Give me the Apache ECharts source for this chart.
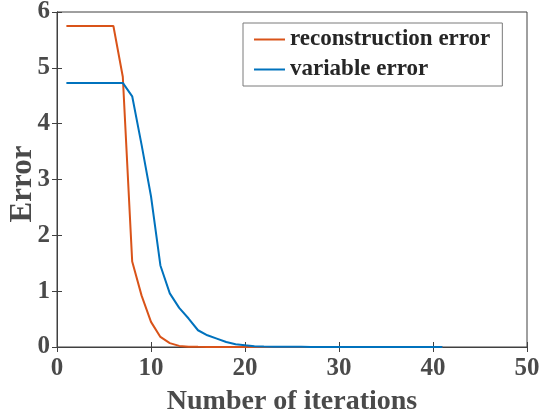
<!DOCTYPE html>
<html>
<head>
<meta charset="utf-8">
<script src="https://cdn.jsdelivr.net/npm/echarts@6/dist/echarts.min.js"></script>
<style>html,body{margin:0;padding:0;background:#fff}#c{width:539px;height:416px}</style>
</head>
<body>
<div id="c"></div>
<script>
var iterations = [1,2,3,4,5,6,7,8,9,10,11,12,13,14,15,16,17,18,19,20,21,22,23,24,25,26,27,28,29,30,31,32,33,34,35,36,37,38,39,40,41];
var reconstructionError = [5.75,5.75,5.75,5.75,5.75,5.75,4.84,1.53,0.92,0.45,0.18,0.07,0.02,0.006,0.003,0.002,0.001,0.001,0.001,0.001,0.001,0.001,0.001,0.001,0.001,0.001,0.001,0.001,0.001,0.001,0.001,0.001,0.001,0.001,0.001,0.001,0.001,0.001,0.001,0.001,0.001];
var variableError = [4.73,4.73,4.73,4.73,4.73,4.73,4.73,4.49,3.62,2.70,1.46,0.96,0.70,0.51,0.30,0.21,0.15,0.09,0.05,0.03,0.015,0.008,0.005,0.004,0.003,0.003,0.002,0.002,0.002,0.002,0.001,0.001,0.001,0.001,0.001,0.001,0.001,0.001,0.001,0.001,0.001];
var seriesNames = ['reconstruction error', 'variable error'];
var xTicks = [0, 10, 20, 30, 40, 50];
var yTicks = [0, 1, 2, 3, 4, 5, 6];

function pairs(ys){ return iterations.map(function(x,i){ return [x, ys[i]]; }); }

var font = 'Liberation Serif, Times New Roman, serif';
var axisColor = '#404040';
var labelColor = '#4a4a4a';

var chart = echarts.init(document.getElementById('c'), null, {renderer:'canvas'});
var common = {
  axisLine:{show:true, lineStyle:{color:axisColor, width:1}},
  axisTick:{show:true, inside:true, length:5, lineStyle:{color:axisColor}},
  splitLine:{show:false},
  nameMoveOverlap:false
};
chart.setOption({
  backgroundColor:'#ffffff',
  animation:false,
  grid:{left:57, right:12, top:12, bottom:69, containLabel:false, outerBoundsMode:'none',
    show:true, borderColor:axisColor, borderWidth:1, backgroundColor:'transparent'},
  legend:{
    data:seriesNames.map(function(n){return {name:n, icon:'rect'};}),
    orient:'vertical', left:243, top:23,
    itemWidth:31, itemHeight:2, itemGap:7,
    padding:[5,12,5,11],
    borderColor:'#7a7a7a', borderWidth:1, backgroundColor:'#ffffff',
    textStyle:{fontFamily:font, fontWeight:'bold', fontSize:23, color:'#262626'}
  },
  xAxis:[
    Object.assign({type:'value', min:xTicks[0], max:xTicks[xTicks.length-1], interval:10, position:'bottom',
      name:'Number of iterations', nameLocation:'middle', nameGap:41,
      nameTextStyle:{fontFamily:font, fontWeight:'bold', fontSize:28, color:labelColor},
      axisLabel:{margin:9, fontFamily:font, fontWeight:'bold', fontSize:25, color:labelColor}}, common),
    Object.assign({type:'value', min:xTicks[0], max:xTicks[xTicks.length-1], interval:10, position:'top',
      axisLabel:{show:false}}, common)
  ],
  yAxis:[
    Object.assign({type:'value', min:yTicks[0], max:yTicks[yTicks.length-1], interval:1, position:'left',
      name:'Error', nameLocation:'middle', nameGap:19, nameRotate:90,
      nameTextStyle:{fontFamily:font, fontWeight:'bold', fontSize:31, color:labelColor, padding:[0,9,0,0]},
      axisLabel:{margin:7, fontFamily:font, fontWeight:'bold', fontSize:25, color:labelColor}}, common),
    Object.assign({type:'value', min:yTicks[0], max:yTicks[yTicks.length-1], interval:1, position:'right',
      axisLabel:{show:false}}, common)
  ],
  series:[
    {name:seriesNames[0], type:'line', data:pairs(reconstructionError), symbol:'none', color:'#D95319',
      lineStyle:{width:2, color:'#D95319'}, itemStyle:{color:'#D95319'}, z:2},
    {name:seriesNames[1], type:'line', data:pairs(variableError), symbol:'none', color:'#0072BD',
      lineStyle:{width:2, color:'#0072BD'}, itemStyle:{color:'#0072BD'}, z:3}
  ]
});
</script>
</body>
</html>
